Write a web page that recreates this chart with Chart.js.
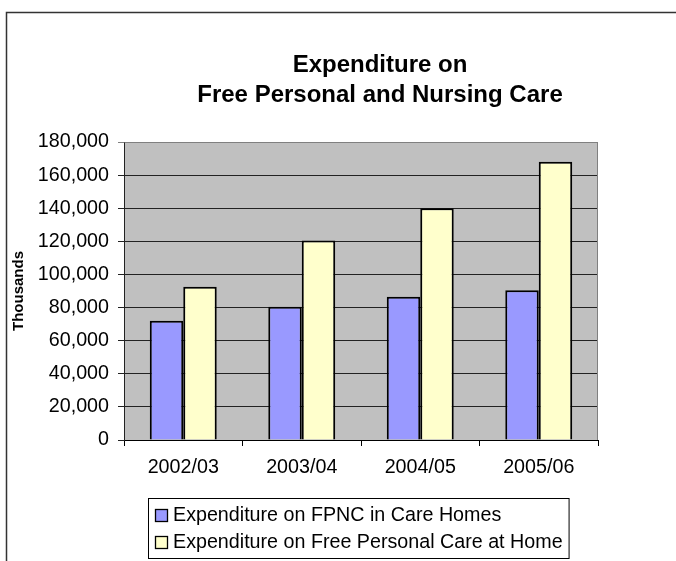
<!DOCTYPE html>
<html><head><meta charset="utf-8">
<script src="https://cdn.jsdelivr.net/npm/chart.js@4/dist/chart.umd.min.js"></script>
<style>html,body{margin:0;padding:0;background:#fff;overflow:hidden}</style>
</head><body>
<canvas id="c" width="676" height="561"></canvas>
<script>
// ---- data ----
const categories = ['2002/03', '2003/04', '2004/05', '2005/06'];
const careHomes = [72000, 80500, 86500, 90500];
const atHome = [92500, 120500, 140000, 168000];
const seriesNames = ['Expenditure on FPNC in Care Homes', 'Expenditure on Free Personal Care at Home'];
const seriesColors = ['#9999FF', '#FFFFCC'];
const titleLines = ['Expenditure on', 'Free Personal and Nursing Care'];
const yAxisTitle = 'Thousands';
const yMin = 0, yMax = 180000, yStep = 20000;

const FONT = '"Liberation Sans", Arial, sans-serif';
const FS = 19.7;

const decor = {
  id: 'decor',
  beforeDraw(chart) {
    const ctx = chart.ctx, a = chart.chartArea;
    ctx.save();
    ctx.fillStyle = '#fff';
    ctx.fillRect(0, 0, chart.width, chart.height);
    // outer frame (top + left)
    ctx.strokeStyle = '#333';
    ctx.lineWidth = 1.5;
    ctx.beginPath();
    ctx.moveTo(6.5, chart.height);
    ctx.lineTo(6.5, 12.5);
    ctx.lineTo(chart.width, 12.5);
    ctx.stroke();
    // plot area
    ctx.fillStyle = '#C0C0C0';
    ctx.fillRect(a.left, a.top, a.right - a.left, a.bottom - a.top);
    ctx.restore();
  },
  afterDraw(chart) {
    const ctx = chart.ctx, a = chart.chartArea;
    ctx.save();
    // plot frame right/top
    ctx.strokeStyle = '#808080';
    ctx.lineWidth = 1;
    ctx.beginPath();
    ctx.moveTo(Math.round(a.left) + 0.5, Math.round(a.top) + 0.5);
    ctx.lineTo(Math.round(a.right) - 0.5, Math.round(a.top) + 0.5);
    ctx.lineTo(Math.round(a.right) - 0.5, Math.round(a.bottom));
    ctx.stroke();
    // title
    ctx.fillStyle = '#000';
    ctx.font = 'bold 24px ' + FONT;
    ctx.textAlign = 'center';
    ctx.textBaseline = 'middle';
    const cx = 380;
    titleLines.forEach((t, i) => ctx.fillText(t, cx, 65 + i * 30.5));
    // legend
    ctx.font = FS + 'px ' + FONT;
    ctx.textAlign = 'left';
    const boxL = 148, boxT = 498, rowH = 27.5, sw = 12, textX = 173;
    let maxW = 0;
    chart.data.datasets.forEach(ds => { maxW = Math.max(maxW, ctx.measureText(ds.label).width); });
    const boxR = textX + maxW + 6, boxB = 558;
    ctx.strokeStyle = '#000';
    ctx.lineWidth = 1;
    ctx.strokeRect(boxL + 0.5, boxT + 0.5, boxR - boxL, boxB - boxT);
    chart.data.datasets.forEach((ds, i) => {
      const cy = 514.5 + i * rowH;
      ctx.fillStyle = ds.backgroundColor;
      ctx.fillRect(155.5, Math.round(cy - sw / 2) + 0.5, sw, sw);
      ctx.strokeStyle = '#000';
      ctx.lineWidth = 1.3;
      ctx.strokeRect(155.5, Math.round(cy - sw / 2) + 0.5, sw, sw);
      ctx.fillStyle = '#000';
      ctx.fillText(ds.label, textX, cy + 1);
    });
    ctx.restore();
  }
};

new Chart(document.getElementById('c'), {
  type: 'bar',
  data: {
    labels: categories,
    datasets: [
      { label: seriesNames[0], data: careHomes, backgroundColor: seriesColors[0], borderColor: '#000', borderWidth: 2 },
      { label: seriesNames[1], data: atHome, backgroundColor: seriesColors[1], borderColor: '#000', borderWidth: 2 }
    ]
  },
  options: {
    responsive: false,
    animation: false,
    devicePixelRatio: 1,
    layout: { padding: { top: 142, left: 0, right: 78, bottom: 0 } },
    datasets: { bar: { categoryPercentage: 0.565, barPercentage: 1 } },
    plugins: { legend: { display: false }, title: { display: false }, tooltip: { enabled: false } },
    scales: {
      x: {
        afterFit(s) { s.height = 121; },
        grid: { drawOnChartArea: false, drawTicks: true, tickLength: 6, color: '#000', offset: true },
        border: { color: '#000', width: 1 },
        ticks: { color: '#000', font: { family: FONT, size: FS }, padding: 10, maxRotation: 0 }
      },
      y: {
        min: yMin, max: yMax,
        afterFit(s) { s.width = 124; },
        grid: { color: ctx => (ctx.tick && ctx.tick.value === yMax ? '#808080' : '#222'), lineWidth: 1, tickLength: 6, drawTicks: true },
        border: { color: '#222', width: 1 },
        title: { display: true, text: yAxisTitle, color: '#000', font: { family: FONT, size: 15, weight: 'bold' }, padding: { top: 10, bottom: 0 } },
        ticks: {
          stepSize: yStep, color: '#000', padding: 9,
          font: { family: FONT, size: FS },
          callback: v => v.toLocaleString('en-US')
        }
      }
    }
  },
  plugins: [decor]
});
</script>
</body></html>
